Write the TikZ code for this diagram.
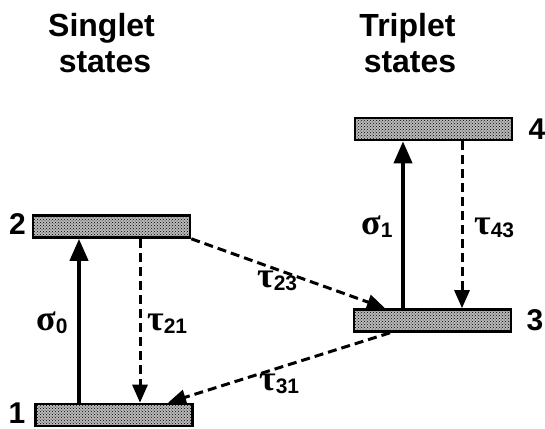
\documentclass[tikz,border=0pt]{standalone}
\usepackage{fontspec}
\setmainfont{Liberation Sans}
\newfontfamily\grk{Liberation Serif}
\usetikzlibrary{arrows.meta,patterns}
\begin{document}
\begin{tikzpicture}[x=1pt,y=1pt,
  level/.style={draw=black,line width=2.6pt,fill=gray!55,
    postaction={pattern=crosshatch dots,pattern color=black},
    minimum width=157pt,minimum height=22pt,inner sep=0pt},
  title/.style={font=\bfseries\fontsize{32}{34}\selectfont,anchor=base,inner sep=0pt},
  num/.style={font=\bfseries\fontsize{30}{32}\selectfont,anchor=base,inner sep=0pt},
  glab/.style={anchor=base west,inner sep=0pt},
  pump/.style={line width=4pt,-{Triangle[length=22pt,width=18pt]}},
  decay/.style={line width=3pt,dash pattern=on 9pt off 5pt,-{Triangle[length=18pt,width=15pt]}}
]
\useasboundingbox (0,0) rectangle (545,428);
\newcommand\gsym[2]{{\grk\bfseries\fontsize{36}{36}\selectfont #1}\raisebox{-3pt}{\bfseries\fontsize{21}{21}\selectfont #2}}

% titles
\node[title] (sa) at (101.5,391) {Singlet};
\node[title] (sb) at (105,355) {states};
\node[title] (ta) at (407.5,391) {Triplet};
\node[title] (tb) at (410,355) {states};

% levels
\node[level] (b1) at (114,13) {};
\node[level] (b2) at (111.5,201.5) {};
\node[level] (b3) at (432.5,107.5) {};
\node[level] (b4) at (433.5,299) {};

% level numbers
\node[num] (n1) at (17,5) {1};
\node[num] (n2) at (17.5,193) {2};
\node[num] (n3) at (535,98) {3};
\node[num] (n4) at (537,288) {4};

% x positions of the vertical transitions
\coordinate (xs0) at (79,0);
\coordinate (xt21) at (140,0);
\coordinate (xs1) at (403,0);
\coordinate (xt43) at (462,0);
\coordinate (xt23) at (385,0);
\coordinate (xt31a) at (390,0);
\coordinate (xt31b) at (168,0);

% transitions
\draw[pump] (b1.north -| xs0) -- (b2.south -| xs0);
\draw[decay] (b2.south east) -- (b3.north -| xt23);
\draw[decay] (b2.south -| xt21) -- (b1.north -| xt21);
\draw[pump] (b3.north -| xs1) -- (b4.south -| xs1);
\draw[decay] (b4.south -| xt43) -- (b3.north -| xt43);
\draw[decay] (b3.south -| xt31a) -- (b1.north -| xt31b);

% rate labels
\node[glab] (l0) at (36,98) {\gsym{σ}{0}};
\node[glab] (l21) at (147,98) {\gsym{τ}{21}};
\node[glab] (l1) at (361,193) {\gsym{σ}{1}};
\node[glab] (l43) at (474,193) {\gsym{τ}{43}};
\node[glab] (l23) at (257,140) {\gsym{τ}{23}};
\node[glab] (l31) at (259,38) {\gsym{τ}{31}};
\end{tikzpicture}
\end{document}
